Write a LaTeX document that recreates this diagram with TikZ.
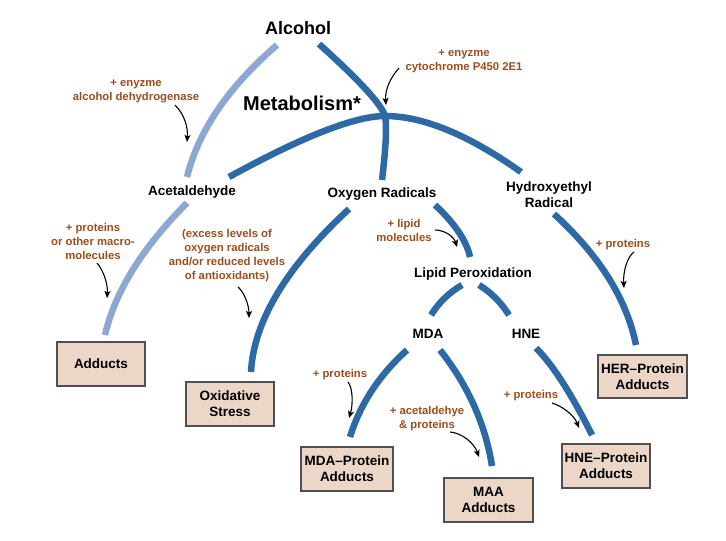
\documentclass[tikz,border=0pt]{standalone}
\usepackage{fontspec}
\setmainfont{Liberation Sans}
\usetikzlibrary{calc,arrows.meta}
\definecolor{darkarc}{RGB}{44,105,165}
\definecolor{lightarc}{RGB}{140,168,210}
\definecolor{notebrown}{RGB}{155,78,30}
\definecolor{boxfill}{RGB}{236,214,199}
\definecolor{boxline}{RGB}{80,80,80}
\newcommand\qarc[4][]{\draw[#1] (#2) .. controls ($(#2)!0.6667!(#3)$) and ($(#4)!0.6667!(#3)$) .. (#4);}
\tikzset{
  arcdark/.style={draw=darkarc, line width=6.5pt},
  arclight/.style={draw=lightarc, line width=6.5pt},
  notearrow/.style={draw=black, line width=1.1pt, -{Stealth[length=7pt,width=6pt,inset=1.5pt]}},
  lbl/.style={inner sep=0pt, align=center, font=\fontsize{13.5}{16}\selectfont\bfseries},
  note/.style={inner sep=0pt, align=center, text=notebrown, font=\fontsize{11.3}{14}\selectfont\bfseries},
  titlea/.style={inner sep=0pt, font=\fontsize{18}{20}\selectfont\bfseries},
  titleb/.style={inner sep=0pt, font=\fontsize{20}{22}\selectfont\bfseries},
  boxnode/.style={draw=boxline, fill=boxfill, line width=1.3pt, minimum width=88pt, minimum height=44pt, inner sep=0pt, align=center, font=\fontsize{13.5}{16}\selectfont\bfseries}
}
\begin{document}
\begin{tikzpicture}[x=1pt, y=-1pt]
\fill[white] (0,0) rectangle (726,541);
\useasboundingbox (0,0) rectangle (726,541);

% labels (anchor=base of multi-line nodes = baseline of the last line)
\node[titlea, anchor=base] (alcohol) at (298,34) {Alcohol};
\node[titleb, anchor=base] (metab) at (302,110) {Metabolism*};
\node[note, anchor=base] (adh) at (136,100) {+ enyzme\\alcohol dehydrogenase};
\node[note, anchor=base] (cyp) at (464,70) {+ enyzme\\cytochrome P450 2E1};
\node[lbl, anchor=base] (acet) at (192,195) {Acetaldehyde};
\node[lbl, anchor=base] (oxy) at (382,197) {Oxygen Radicals};
\node[lbl, anchor=base] (hyd) at (549,207) {Hydroxyethyl\\Radical};
\node[note, anchor=base] (protA) at (93,259) {+ proteins\\or other macro-\\molecules};
\node[note, anchor=base] (excess) at (227,279) {(excess levels of\\oxygen radicals\\and/or reduced levels\\of antioxidants)};
\node[note, anchor=base] (lipidm) at (404,241) {+ lipid\\molecules};
\node[lbl, anchor=base] (lipid) at (473,277) {Lipid Peroxidation};
\node[lbl, anchor=base] (mda) at (428,338) {MDA};
\node[lbl, anchor=base] (hne) at (526,338) {HNE};
\node[note, anchor=base] (protB) at (623,247) {+ proteins};
\node[note, anchor=base] (protC) at (340,377) {+ proteins};
\node[note, anchor=base] (acprot) at (427,428) {+ acetaldehye\\\& proteins};
\node[note, anchor=base] (protD) at (531,398) {+ proteins};

% boxes
\node[boxnode] (adducts) at (101,364) {Adducts};
\node[boxnode] (oxstress) at (230,404) {Oxidative\\Stress};
\node[boxnode, minimum width=92pt] (mdaprot) at (347,469) {MDA–Protein\\Adducts};
\node[boxnode, minimum width=89pt] (maa) at (488.5,500) {MAA\\Adducts};
\node[boxnode] (hneprot) at (606,466) {HNE–Protein\\Adducts};
\node[boxnode, minimum width=89pt, minimum height=43pt] (herprot) at (642.5,376.5) {HER–Protein\\Adducts};

% arc coordinates
\coordinate (a1s) at (277,45); \coordinate (a1q) at (204,108); \coordinate (a1e) at (187,177);
\coordinate (a2s) at (187,203); \coordinate (a2q) at (120,270); \coordinate (a2e) at (105,335);
\coordinate (d1s) at (319,44); \coordinate (d1q) at (380,99); \coordinate (junc) at (385,116);
\coordinate (d2q) at (388,130); \coordinate (d2e) at (382,180);
\coordinate (wls) at (229,177); \coordinate (wlq) at (340,116);
\coordinate (wrq) at (442,116); \coordinate (wre) at (521,172);
\coordinate (os) at (349,209); \coordinate (oq) at (255,296); \coordinate (oe) at (251,372);
\coordinate (ls) at (435,205); \coordinate (lq) at (465,233); \coordinate (le) at (470,257);
\coordinate (ms) at (462,285); \coordinate (mq) at (443,296); \coordinate (me) at (431,315);
\coordinate (hs) at (479,285); \coordinate (hq) at (497,296); \coordinate (he) at (509,315);
\coordinate (mps) at (407,350); \coordinate (mpq) at (365,388); \coordinate (mpe) at (350,437);
\coordinate (mas) at (440,350); \coordinate (maq) at (482,403); \coordinate (mae) at (492,466);
\coordinate (hps) at (536,348); \coordinate (hpq) at (561,373); \coordinate (hpe) at (592,435);
\coordinate (hrs) at (554,214); \coordinate (hrq) at (622,276); \coordinate (hre) at (636,345);

% arcs
\qarc[arclight]{a1s}{a1q}{a1e}
\qarc[arclight]{a2s}{a2q}{a2e}
\qarc[arcdark]{wls}{wlq}{junc}
\qarc[arcdark]{junc}{wrq}{wre}
\draw[arcdark] (d1s) .. controls ($(d1s)!0.6667!(d1q)$) and ($(junc)!0.6667!(d1q)$) .. (junc)
  .. controls ($(junc)!0.6667!(d2q)$) and ($(d2e)!0.6667!(d2q)$) .. (d2e);
\qarc[arcdark]{os}{oq}{oe}
\qarc[arcdark]{ls}{lq}{le}
\qarc[arcdark]{ms}{mq}{me}
\qarc[arcdark]{hs}{hq}{he}
\qarc[arcdark]{mps}{mpq}{mpe}
\qarc[arcdark]{mas}{maq}{mae}
\qarc[arcdark]{hps}{hpq}{hpe}
\qarc[arcdark]{hrs}{hrq}{hre}

% note arrows
\coordinate (n1s) at (175,105); \coordinate (n1e) at (187,142);
\coordinate (n2s) at (399,68);  \coordinate (n2e) at (386,105);
\coordinate (n3s) at (97,263);  \coordinate (n3e) at (107,298);
\coordinate (n4s) at (238,287); \coordinate (n4e) at (249,318);
\coordinate (n5s) at (435,230); \coordinate (n5e) at (457,247);
\coordinate (n6s) at (634,252); \coordinate (n6e) at (624,288);
\coordinate (n7s) at (348,382); \coordinate (n7e) at (349,418);
\coordinate (n8s) at (450,432); \coordinate (n8e) at (479,457);
\coordinate (n9s) at (552,403); \coordinate (n9e) at (579,428);
\draw[notearrow] (n1s) .. controls (185,115) and (188,128) .. (n1e);
\draw[notearrow] (n2s) .. controls (390,78) and (385,90) .. (n2e);
\draw[notearrow] (n3s) .. controls (103,270) and (108,283) .. (n3e);
\draw[notearrow] (n4s) .. controls (244,292) and (249,305) .. (n4e);
\draw[notearrow] (n5s) .. controls (445,230) and (454,237) .. (n5e);
\draw[notearrow] (n6s) .. controls (627,257) and (623,272) .. (n6e);
\draw[notearrow] (n7s) .. controls (353,388) and (353,405) .. (n7e);
\draw[notearrow] (n8s) .. controls (462,433) and (474,443) .. (n8e);
\draw[notearrow] (n9s) .. controls (562,406) and (574,415) .. (n9e);
\end{tikzpicture}
\end{document}
